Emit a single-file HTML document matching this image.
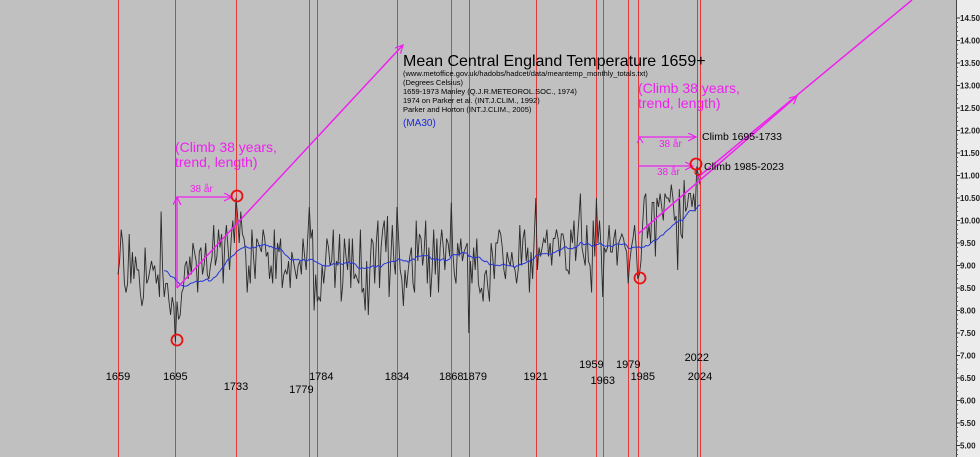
<!DOCTYPE html>
<html><head><meta charset="utf-8"><style>
html,body{margin:0;padding:0;background:#c0c0c0;}
svg{display:block;font-family:"Liberation Sans",Arial,sans-serif;}
</style></head><body>
<svg id="chart" width="980" height="457" viewBox="0 0 980 457" xmlns="http://www.w3.org/2000/svg">
<rect x="0" y="0" width="980" height="457" fill="#c0c0c0"/>
<rect x="956" y="0" width="24" height="457" fill="#ececec"/>
<line x1="956.5" y1="0" x2="956.5" y2="457" stroke="#444"/>
<g id="vlines"></g>
<g id="series"></g>
<g id="yaxis"></g>
<g id="years"></g>
<g>
<text x="403" y="66" font-size="16" fill="#000">Mean Central England Temperature 1659+</text>
<text x="403" y="76" font-size="7.5" fill="#000">(www.metoffice.gov.uk/hadobs/hadcet/data/meantemp_monthly_totals.txt)</text>
<text x="403" y="85" font-size="7.5" fill="#000">(Degrees Celsius)</text>
<text x="403" y="94" font-size="7.5" fill="#000">1659-1973 Manley (Q.J.R.METEOROL.SOC., 1974)</text>
<text x="403" y="103" font-size="7.5" fill="#000">1974 on Parker et al. (INT.J.CLIM., 1992)</text>
<text x="403" y="112" font-size="7.5" fill="#000">Parker and Horton (INT.J.CLIM., 2005)</text>
<text x="403" y="126" font-size="10" fill="#1a2ad8">(MA30)</text>
</g>
<g id="annot">
<defs><marker id="ah" markerWidth="10" markerHeight="10" refX="8" refY="4" orient="auto" markerUnits="userSpaceOnUse"><path d="M0,0 L8,4 L0,8" fill="none" stroke="#f020f0" stroke-width="1.2"/></marker></defs>
<line x1="177" y1="288" x2="403" y2="45" stroke="#f020f0" stroke-width="1.5" marker-end="url(#ah)"/>
<line x1="177" y1="288" x2="177" y2="197" stroke="#f020f0" stroke-width="1.3" marker-end="url(#ah)"/>
<line x1="177" y1="197" x2="232" y2="197" stroke="#f020f0" stroke-width="1.3" marker-end="url(#ah)"/>
<text x="190" y="192" font-size="10" fill="#f020f0">38 år</text>
<text x="175" y="152" font-size="14" fill="#f020f0">(Climb 38 years,</text>
<text x="175" y="167" font-size="14" fill="#f020f0">trend, length)</text>
<circle cx="177" cy="340" r="5.5" fill="none" stroke="#e81010" stroke-width="1.8"/>
<circle cx="237" cy="196" r="5.5" fill="none" stroke="#e81010" stroke-width="1.8"/>
<line x1="638" y1="234" x2="797" y2="96" stroke="#f020f0" stroke-width="1.5" marker-end="url(#ah)"/>
<line x1="697" y1="178" x2="912" y2="0" stroke="#f020f0" stroke-width="1.5"/>
<line x1="638" y1="137" x2="696" y2="137" stroke="#f020f0" stroke-width="1.3" marker-end="url(#ah)"/>
<path d="M637,143 L640,138 L643,143" fill="none" stroke="#f020f0"/>
<text x="659" y="147" font-size="10" fill="#f020f0">38 år</text>
<line x1="638" y1="166" x2="693" y2="166" stroke="#f020f0" stroke-width="1.3" marker-end="url(#ah)"/>
<text x="657" y="175" font-size="10" fill="#f020f0">38 år</text>
<text x="702" y="140" font-size="10.5" fill="#000">Climb 1695-1733</text>
<text x="704" y="170" font-size="10.5" fill="#000">Climb 1985-2023</text>
<circle cx="696" cy="164" r="5.5" fill="none" stroke="#e81010" stroke-width="1.8"/>
<circle cx="698" cy="172" r="3" fill="none" stroke="#e81010" stroke-width="1.3"/>
<circle cx="640" cy="278" r="5.5" fill="none" stroke="#e81010" stroke-width="1.8"/>
<text x="638" y="93" font-size="14" fill="#f020f0">(Climb 38 years,</text>
<text x="638" y="108" font-size="14" fill="#f020f0">trend, length)</text>
</g>
</svg>
<script>
const startYear = 1659;
const temps = [
8.8,9.1,9.8,9.5,8.6,8.4,8.6,9.7,8.6,9.3,
8.7,9.2,8.9,8.9,8.4,8.1,8.3,9.4,8.6,8.7,
8.9,9.1,8.9,9.0,8.6,8.8,8.3,10.2,8.9,8.3,
8.6,8.6,8.2,7.9,8.3,8.1,7.3,8.2,7.8,7.9,
8.4,8.5,9.0,9.1,8.7,9.2,8.8,9.5,9.3,9.1,
8.4,9.3,9.4,8.8,9.0,9.5,8.8,8.7,9.0,9.2,
9.9,9.0,9.2,9.8,9.4,9.7,8.6,9.5,9.9,9.4,
8.9,9.6,10.0,9.5,10.5,10.1,9.5,10.2,9.7,9.6,
9.3,8.4,9.0,8.6,9.8,9.2,8.7,9.6,9.5,9.4,
9.3,9.8,9.6,9.2,9.3,8.7,9.0,8.6,9.8,8.7,
9.5,9.3,9.6,8.5,8.8,8.9,8.8,9.1,8.5,9.3,
9.1,8.9,8.7,9.0,9.1,8.8,9.6,9.2,8.9,9.6,
10.3,9.6,9.8,8.0,8.8,8.2,8.3,8.2,9.0,8.6,
9.0,9.6,9.4,9.0,9.1,9.8,8.5,9.1,9.0,9.7,
8.2,8.6,9.6,9.2,8.9,9.6,8.5,9.6,8.7,8.8,
8.7,8.6,9.8,8.4,8.5,8.0,9.1,7.9,8.9,9.6,
9.5,8.6,9.5,10.0,8.5,9.4,9.8,10.0,9.3,10.1,
8.3,9.1,9.9,9.1,8.8,10.3,9.6,8.9,8.7,8.1,
8.9,8.5,8.9,9.2,9.4,8.6,8.4,10.0,9.1,9.7,
9.6,9.0,9.3,10.0,8.6,9.4,8.3,8.9,9.8,8.8,
9.6,8.4,9.4,9.8,9.4,8.9,9.6,9.5,9.2,10.4,
9.3,8.8,8.6,9.5,9.2,9.6,9.1,9.3,9.4,9.5,
7.5,9.1,8.6,9.4,8.9,9.6,8.6,8.4,8.5,8.2,
8.8,8.9,8.5,8.2,9.5,9.2,8.7,9.5,9.5,9.8,
9.7,9.4,8.9,8.7,9.3,9.1,9.0,9.3,9.0,8.9,
8.6,8.9,9.9,9.0,9.6,9.8,9.1,9.4,8.4,9.3,
8.7,9.6,10.5,8.9,9.4,9.2,9.4,9.6,9.5,9.8,
9.2,9.5,9.0,9.6,9.6,9.8,9.6,9.2,9.7,9.7,
9.5,8.9,8.9,8.8,9.8,9.5,10.0,9.1,9.5,10.0,
10.6,9.4,9.2,9.0,9.9,9.1,9.0,8.4,10.0,9.2,
10.5,9.5,10.0,9.4,8.3,9.4,9.3,9.4,9.9,9.3,
9.3,9.6,9.8,9.0,9.5,9.6,9.7,9.6,9.4,9.3,
8.6,9.1,9.4,9.6,9.9,9.4,8.7,8.8,9.1,9.9,
10.5,10.6,9.6,9.9,9.5,10.4,10.4,9.2,10.5,10.3,
10.6,10.3,10.0,10.6,10.5,10.5,10.4,10.8,10.5,10.0,
10.1,8.9,10.7,9.7,9.6,10.9,10.2,10.3,10.6,10.6,
10.3,10.6,10.2,11.2,11.0,10.8
];
const markerYears = [1659,1695,1733,1779,1784,1834,1868,1879,1921,1959,1963,1979,1985,2022,2024];
const yTicks = [5.0,5.5,6.0,6.5,7.0,7.5,8.0,8.5,9.0,9.5,10.0,10.5,11.0,11.5,12.0,12.5,13.0,13.5,14.0,14.5];
const maWindow = 30;

const NS = "http://www.w3.org/2000/svg";
function xOf(year){ return 118 + (year - 1659) * (700 - 118) / (2024 - 1659); }
function yOf(v){ return 18 + (14.5 - v) * 45; }
function mk(tag, attrs, parent){ const e = document.createElementNS(NS, tag); for (const k in attrs) e.setAttribute(k, attrs[k]); parent.appendChild(e); return e; }

const vl = document.getElementById('vlines');
const yrs = document.getElementById('years');
const labelDy = {1733:10,1779:13,1959:-12,1963:4,1979:-12,2022:-19};
const labelDx = {1779:-8,1784:4,1879:6,1959:-5,1985:5};
markerYears.forEach(y => {
  const x = Math.round(xOf(y)) + 0.5;
  const l = mk('line', {x1:x, y1:0, x2:x, y2:457, stroke:'#e8393a', 'stroke-width':1}, vl);
  
  
  const t = mk('text', {x:xOf(y) + (labelDx[y]||0), y:380 + (labelDy[y]||0), 'font-size':11, 'text-anchor':'middle', fill:'#000'}, yrs);
  t.textContent = y;
  
  
});

const ser = document.getElementById('series');
const pts = temps.map((v,i) => xOf(startYear + i).toFixed(1) + ',' + yOf(v).toFixed(1)).join(' ');
const pl = mk('polyline', {points:pts, fill:'none', stroke:'#2a2a2a', 'stroke-width':0.9}, ser);


const maPts = [];
for (let i = maWindow - 1; i < temps.length; i++) {
  let s = 0; for (let j = i - maWindow + 1; j <= i; j++) s += temps[j];
  maPts.push(xOf(startYear + i).toFixed(1) + ',' + yOf(s / maWindow).toFixed(1));
}
const ma = mk('polyline', {points:maPts.join(' '), fill:'none', stroke:'#2436d8', 'stroke-width':1}, ser);



const ya = document.getElementById('yaxis');
yTicks.forEach(v => {
  const y = yOf(v);
  const tk = mk('line', {x1:956, y1:y, x2:960, y2:y, stroke:'#333'}, ya);
  
  
  const t = mk('text', {x:960, y:y + 3, 'font-size':8, 'font-weight':'bold', fill:'#222'}, ya);
  t.textContent = v.toFixed(2);
  
  
  for (let k = 1; k < 5; k++) {
    const my = y + k * 4.5;
    if (my > 457) break;
    const m = mk('line', {x1:956, y1:my, x2:958, y2:my, stroke:'#555'}, ya);
    
    
  }
});
</script>
</body></html>
